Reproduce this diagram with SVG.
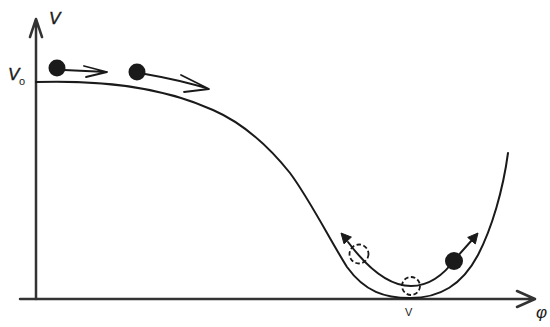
<svg xmlns="http://www.w3.org/2000/svg" width="550" height="327" viewBox="0 0 550 327">
<style>
.axis{fill:none;stroke:#333;stroke-width:2.5;stroke-linecap:round;stroke-linejoin:round}
.curve{fill:none;stroke:#1a1a1a;stroke-width:2;stroke-linecap:round}
.arrow{fill:none;stroke:#1a1a1a;stroke-width:1.8;stroke-linecap:round;stroke-linejoin:round}
.head{fill:#1a1a1a;stroke:#1a1a1a;stroke-width:1;stroke-linejoin:round}
.ball{fill:#1a1a1a}
.ghost{fill:none;stroke:#1a1a1a;stroke-width:1.8;stroke-dasharray:4.5 2.5}
.lbl{font-family:"Liberation Sans",Arial,sans-serif;fill:#1a1a1a}
</style>
<rect width="550" height="327" fill="#fff"/>
<g id="axes">
  <path class="axis" d="M36,299 V19 M30,37 L36,19 L42,37"/>
  <path class="axis" d="M20,299 H534 M517,291 L535,299 L517,307"/>
  <text class="lbl" x="49" y="24" font-size="17" font-style="italic" stroke="#1a1a1a" stroke-width="0.4">V</text>
  <text class="lbl" x="8" y="80" font-size="17" font-style="italic" stroke="#1a1a1a" stroke-width="0.4">V</text>
  <text class="lbl" x="19" y="85" font-size="11">o</text>
  <text class="lbl" x="405" y="316" font-size="11">V</text>
  <text class="lbl" x="536" y="318" font-size="17" font-style="italic">φ</text>
</g>
<g id="potential">
  <path class="curve" d="M36,82 C100,80 160,86 213,110 C245,124 270,148 290,173 C310,200 330,240 347,267 C365,292 385,298 410,298 C440,298 462,285 478,255 C492,228 503,190 508,153"/>
</g>
<g id="ball1">
  <circle class="ball" cx="57" cy="68" r="8.5"/>
  <path class="arrow" d="M64,70 L107,72 M84,66 L107,72 L86,77"/>
</g>
<g id="ball2">
  <circle class="ball" cx="137" cy="72" r="8.5"/>
  <path class="arrow" d="M145,74 Q180,80 209,89 M181,75 L209,89 L184,92"/>
</g>
<g id="oscillation">
  <path class="curve" d="M348,242 C366,266 388,286 411,286 C432,286 446,272 456,258 L472,240"/>
  <polygon class="head" points="341,233 351.4,237.1 344,243.8"/>
  <polygon class="head" points="478,233 475.3,243.9 467.7,237.4"/>
  <circle class="ghost" cx="359" cy="254" r="9.5"/>
  <circle class="ghost" cx="411" cy="286" r="9"/>
  <circle class="ball" cx="454" cy="261" r="9"/>
</g>
</svg>
